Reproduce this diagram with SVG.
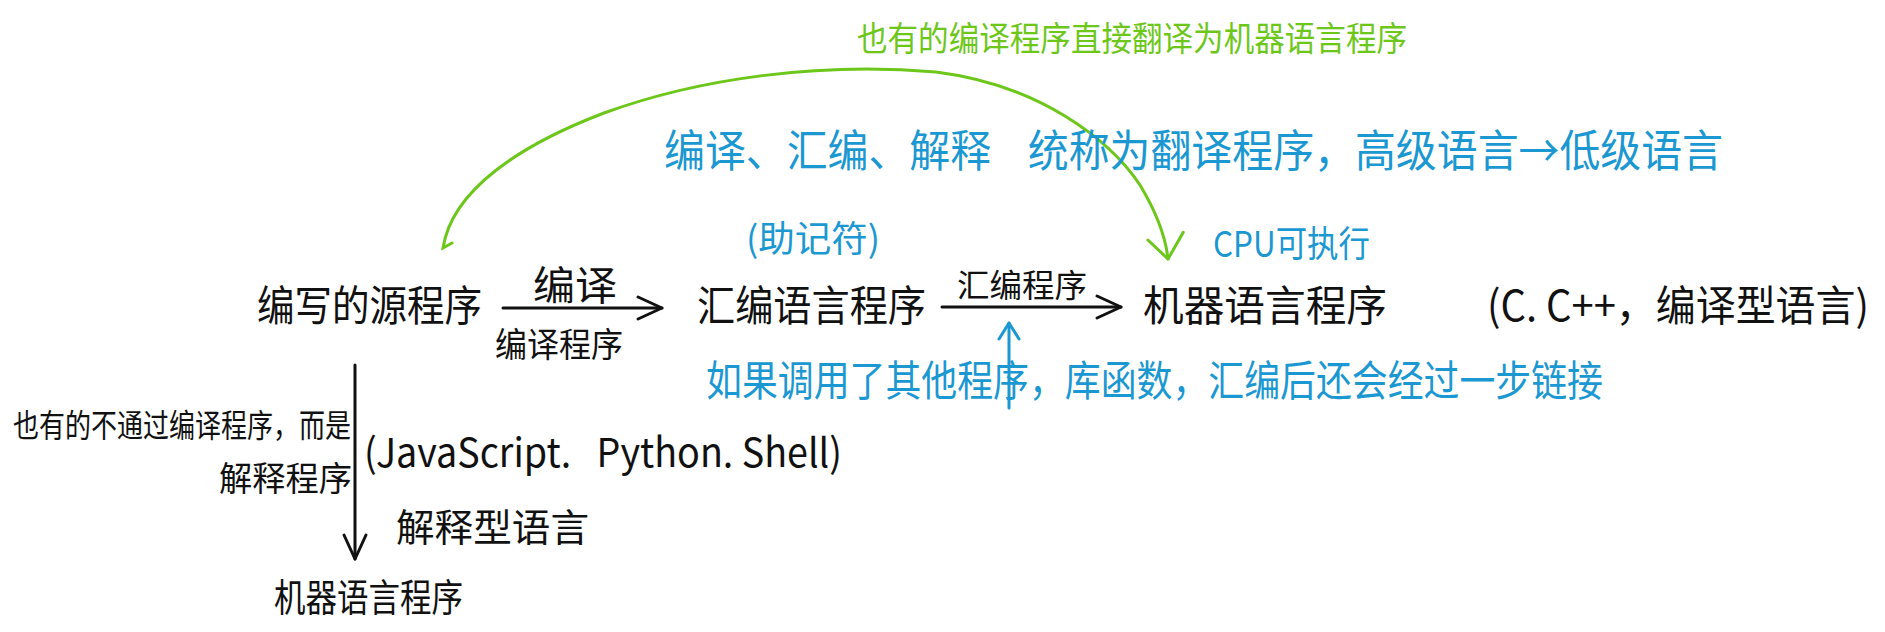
<svg xmlns="http://www.w3.org/2000/svg" width="1885" height="632" viewBox="0 0 1885 632">
  <style>
    text { font-family: "Noto Sans CJK SC", "Noto Sans", sans-serif; dominant-baseline: central; }
    .k { fill: #111111; }
    .b { fill: #1b98d1; }
    .g { fill: #6cc71a; }
    .lk { stroke: #111111; stroke-width: 3; fill: none; stroke-linecap: round; }
    .lb { stroke: #1b98d1; stroke-width: 3; fill: none; stroke-linecap: round; }
    .lg { stroke: #6cc71a; stroke-width: 3; fill: none; stroke-linecap: round; }
  </style>
  <defs>
    <marker id="ak" viewBox="0 0 28 26" markerWidth="28" markerHeight="26" refX="26" refY="13" orient="auto" markerUnits="userSpaceOnUse">
      <path d="M2,2 L26,13 L2,24" fill="none" stroke="#111111" stroke-width="3" stroke-linecap="round" stroke-linejoin="round"/>
    </marker>
    <marker id="ab" viewBox="0 0 20 24" markerWidth="20" markerHeight="24" refX="18" refY="12" orient="auto" markerUnits="userSpaceOnUse">
      <path d="M2,2 L18,12 L2,22" fill="none" stroke="#1b98d1" stroke-width="3" stroke-linecap="round" stroke-linejoin="round"/>
    </marker>
    <marker id="ag" viewBox="0 0 30 40" markerWidth="30" markerHeight="40" refX="27" refY="20" orient="auto" markerUnits="userSpaceOnUse">
      <path d="M2,2 L27,20 L6,38" fill="none" stroke="#6cc71a" stroke-width="3" stroke-linecap="round" stroke-linejoin="round"/>
    </marker>
  </defs>

  <g id="connectors">
    <path class="lk" d="M503,308 L662,308" marker-end="url(#ak)"/>
    <path class="lk" d="M942,307 L1121,307" marker-end="url(#ak)"/>
    <path class="lk" d="M355,365 L355,559" marker-end="url(#ak)"/>
    <path class="lb" d="M1009,408 L1009,323" marker-end="url(#ab)"/>
    <path class="lg" d="M452,243 L443,248 C452,190 520,145 604,113 C700,78 820,62 936,72 C1040,85 1110,140 1140,185 C1158,215 1166,240 1168,259" marker-end="url(#ag)"/>
  </g>

  <g id="node-source">
    <text class="k" x="257" y="302" font-size="42" textLength="225" lengthAdjust="spacingAndGlyphs">编写的源程序</text>
  </g>
  <g id="node-asm">
    <text class="k" x="697" y="302" font-size="42" textLength="229" lengthAdjust="spacingAndGlyphs">汇编语言程序</text>
  </g>
  <g id="node-machine">
    <text class="k" x="1143" y="302" font-size="42" textLength="244" lengthAdjust="spacingAndGlyphs">机器语言程序</text>
  </g>
  <g id="node-machine2">
    <text class="k" x="274" y="594" font-size="38" textLength="189" lengthAdjust="spacingAndGlyphs">机器语言程序</text>
  </g>

  <g id="label-compile">
    <text class="k" x="533" y="283" font-size="40" textLength="84" lengthAdjust="spacingAndGlyphs">编译</text>
    <text class="k" x="495" y="342" font-size="34" textLength="128" lengthAdjust="spacingAndGlyphs">编译程序</text>
  </g>
  <g id="label-assemble">
    <text class="k" x="957" y="283" font-size="32" textLength="130" lengthAdjust="spacingAndGlyphs">汇编程序</text>
  </g>
  <g id="label-interpret">
    <text class="k" x="13" y="423" font-size="32" textLength="338" lengthAdjust="spacingAndGlyphs">也有的不通过编译程序，而是</text>
    <text class="k" x="219" y="476" font-size="34" textLength="133" lengthAdjust="spacingAndGlyphs">解释程序</text>
  </g>
  <g id="note-compiled">
    <text class="k" x="1487" y="302" font-size="42" textLength="382" lengthAdjust="spacingAndGlyphs">(C. C++，编译型语言)</text>
  </g>
  <g id="note-interpreted">
    <text class="k" x="364" y="450" font-size="40" textLength="478" lengthAdjust="spacingAndGlyphs">(JavaScript.&#160;&#160; Python. Shell)</text>
    <text class="k" x="396" y="524" font-size="38" textLength="193" lengthAdjust="spacingAndGlyphs">解释型语言</text>
  </g>
  <g id="note-direct">
    <text class="g" x="857" y="36" font-size="34" textLength="550" lengthAdjust="spacingAndGlyphs">也有的编译程序直接翻译为机器语言程序</text>
  </g>
  <g id="note-translators">
    <text class="b" x="664" y="148" font-size="44" textLength="1059" lengthAdjust="spacingAndGlyphs">编译、汇编、解释&#160;&#160;&#160; 统称为翻译程序，高级语言→低级语言</text>
  </g>
  <g id="note-mnemonic">
    <text class="b" x="746" y="236" font-size="36" textLength="134" lengthAdjust="spacingAndGlyphs">(助记符)</text>
  </g>
  <g id="note-cpu">
    <text class="b" x="1213" y="241" font-size="36" textLength="157" lengthAdjust="spacingAndGlyphs">CPU可执行</text>
  </g>
  <g id="note-link">
    <text class="b" x="706" y="377" font-size="42" textLength="897" lengthAdjust="spacingAndGlyphs">如果调用了其他程序，库函数，汇编后还会经过一步链接</text>
  </g>
</svg>
